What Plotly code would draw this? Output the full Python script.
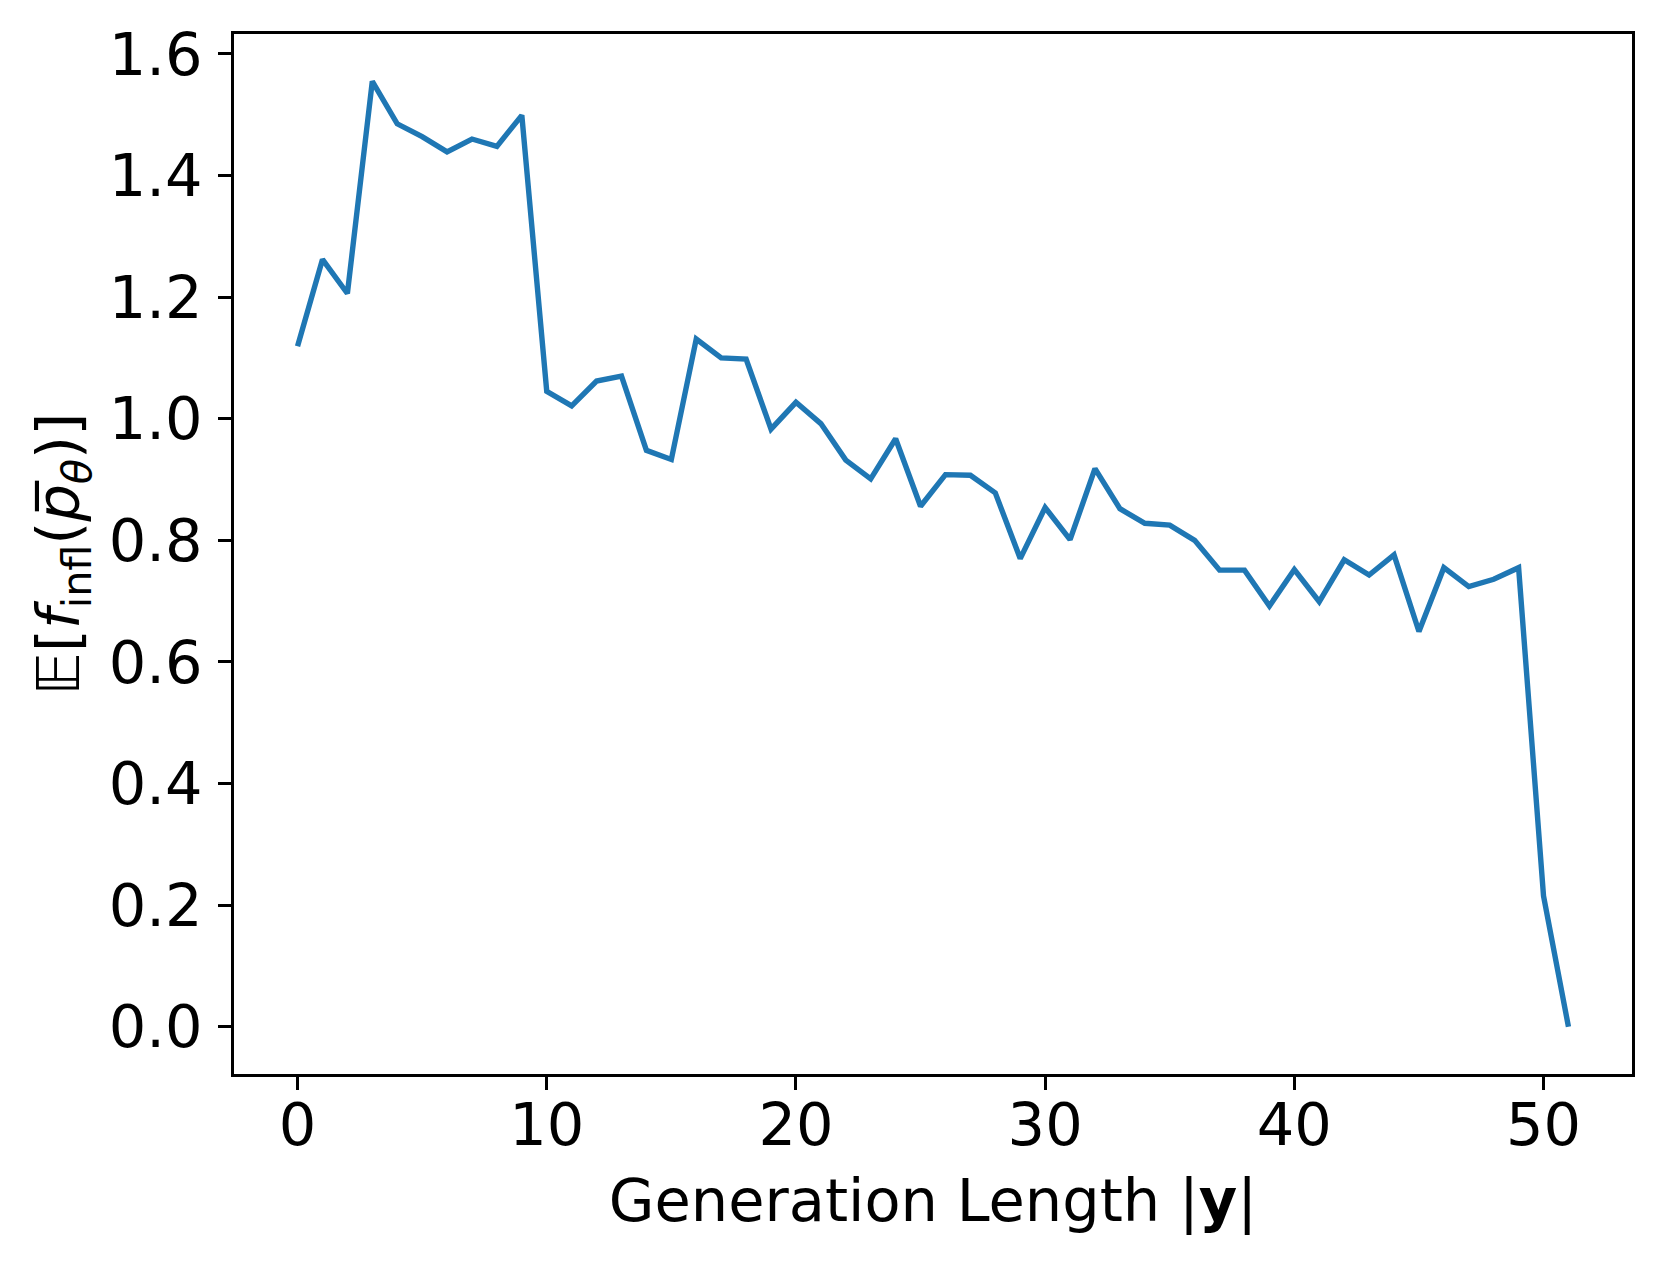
import plotly.graph_objects as go

lengths = list(range(52))
values = [1.119, 1.262, 1.206, 1.555, 1.485, 1.464, 1.439, 1.460, 1.448, 1.499,
          1.045, 1.021, 1.062, 1.070, 0.948, 0.933, 1.131, 1.100, 1.098, 0.983,
          1.027, 0.992, 0.932, 0.901, 0.967, 0.856, 0.908, 0.907, 0.878, 0.770,
          0.854, 0.801, 0.918, 0.852, 0.828, 0.825, 0.800, 0.751, 0.751, 0.692,
          0.752, 0.699, 0.768, 0.743, 0.776, 0.650, 0.755, 0.724, 0.736, 0.755,
          0.215, 0.000]
x_ticks = [0, 10, 20, 30, 40, 50]
y_ticks = [0.0, 0.2, 0.4, 0.6, 0.8, 1.0, 1.2, 1.4, 1.6]
y_tick_text = [f"{v:.1f}" for v in y_ticks]

x_label = "Generation Length |<b>y</b>|"
y_label = "<i>𝔼</i>[<i>f</i><sub>infl</sub>(<i>p̅</i><sub><i>θ</i></sub>)]"

xr = max(lengths) - min(lengths)
yr = max(values) - min(values)

fig = go.Figure()
fig.add_trace(go.Scatter(x=lengths, y=values, mode="lines",
                         line=dict(color="#1f77b4", width=5.4), showlegend=False))

axis_common = dict(showline=True, linecolor="black", linewidth=2.9, mirror=True,
                   ticks="outside", ticklen=12.6, tickwidth=2.9, tickcolor="black",
                   showgrid=False, zeroline=False,
                   tickfont=dict(family="DejaVu Sans", size=59, color="black"))

fig.update_layout(
    width=1662, height=1267,
    margin=dict(l=226, r=38, t=24, b=201),
    paper_bgcolor="white", plot_bgcolor="white",
    xaxis=dict(range=[min(lengths) - 0.05 * xr, max(lengths) + 0.05 * xr],
               tickvals=x_ticks, ticklabelstandoff=-15,
               title=dict(text=x_label, font=dict(family="DejaVu Sans", size=59, color="black"),
                          standoff=22),
               **axis_common),
    yaxis=dict(range=[min(values) - 0.05 * yr, max(values) + 0.05 * yr],
               tickvals=y_ticks, ticktext=y_tick_text, ticklabelstandoff=4,
               title=dict(text=y_label, font=dict(family="DejaVu Sans", size=59, color="black"),
                          standoff=11),
               **axis_common),
)

fig.write_html("out.html")
